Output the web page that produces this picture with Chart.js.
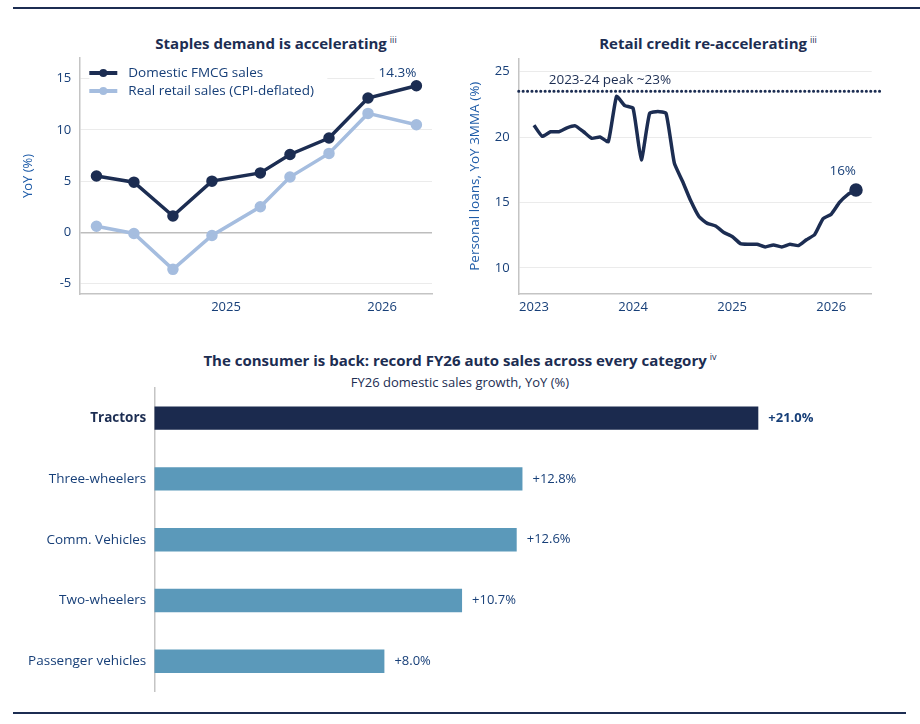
<!DOCTYPE html>
<html>
<head>
<meta charset="utf-8">
<script src="https://cdn.jsdelivr.net/npm/chart.js@4.4.1/dist/chart.umd.min.js"></script>
<style>
  body { margin: 0; background: #fff; width: 920px; height: 724px; position: relative; overflow: hidden; font-family: "Open Sans", sans-serif; }
  .rule { position: absolute; height: 2px; background: #1c2d52; }
  .title { position: absolute; color: #1c2d52; font-weight: 700; font-size: 15px; line-height: 20px; text-align: center; white-space: nowrap; }
  .title sup { font-size: 9px; font-weight: 400; color: #1c2d52; vertical-align: top; position: relative; top: -3px; margin-left: 3px; }
  .sub { position: absolute; color: #1c2d52; font-size: 13px; line-height: 18px; text-align: center; white-space: nowrap; }
  canvas { position: absolute; }
</style>
</head>
<body>
<div class="rule" style="left:13px; top:7px; width:907px;"></div>
<div class="title" style="left:76px; top:33px; width:400px;">Staples demand is accelerating<sup>iii</sup></div>
<div class="title" style="left:508px; top:33px; width:400px;">Retail credit re-accelerating<sup>iii</sup></div>
<div class="title" style="left:60px; top:350px; width:800px;">The consumer is back: record FY26 auto sales across every category<sup>iv</sup></div>
<div class="sub" style="left:60px; top:373px; width:800px;">FY26 domestic sales growth, YoY (%)</div>
<canvas id="fmcgChart" width="450" height="280" style="left:0; top:50px;"></canvas>
<canvas id="creditChart" width="460" height="280" style="left:460px; top:50px;"></canvas>
<canvas id="autoChart" width="920" height="320" style="left:0; top:380px;"></canvas>
<div class="rule" style="left:13px; top:712px; width:893px;"></div>

<script>
// ---- Données ----
// Graphique 1 : ventes FMCG vs ventes au détail (dates en années décimales)
const fmcgDates = [2024.17, 2024.41, 2024.66, 2024.91, 2025.22, 2025.41, 2025.66, 2025.91, 2026.22];
const fmcgSales = [5.5, 4.9, 1.6, 5.0, 5.8, 7.6, 9.2, 13.1, 14.3];
const realRetail = [0.6, -0.1, -3.6, -0.3, 2.5, 5.4, 7.7, 11.6, 10.5];
const fmcgYears = [2025, 2026];
const fmcgYTicks = [-5, 0, 5, 10, 15];

// Graphique 2 : prêts personnels, mensuel à partir de janv. 2023
const creditYears = ['2023', '2024', '2025', '2026'];
const creditLoans = [
  20.9, 20.05, 20.4, 20.4, 20.7, 20.85, 20.4, 19.9, 20.0, 19.65, 23.1, 22.4,
  22.2, 18.25, 21.8, 21.95, 21.8, 18.0, 16.6, 15.1, 13.9, 13.4, 13.2, 12.7,
  12.4, 11.85, 11.8, 11.8, 11.6, 11.75, 11.6, 11.8, 11.7, 12.15, 12.55, 13.75,
  14.1, 15.0, 15.6, 15.95
];
const creditPeak = 23.5;
const creditYTicks = [10, 15, 20, 25];

// Graphique 3 : ventes auto FY26
const autoCategories = ['Tractors', 'Three-wheelers', 'Comm. Vehicles', 'Two-wheelers', 'Passenger vehicles'];
const autoGrowth = [21.0, 12.8, 12.6, 10.7, 8.0];

// ---- Styles ----
const NAVY = '#1c2d52';
const TICK = '#173f78';
const AXIS_TITLE = '#1f5ca8';
const LIGHT = '#a5bddf';
const STEEL = '#5b99ba';
const FONT = '"Open Sans", sans-serif';

Chart.defaults.font.family = FONT;
Chart.defaults.color = TICK;

// largeur / hauteur fixes des axes, sans marge ajoutée pour les étiquettes
function fixWidth(w) {
  return s => { s.width = w; s.paddingTop = 0; s.paddingBottom = 0; };
}
function fixHeight(h) {
  return s => { s.height = h; s.paddingLeft = 0; s.paddingRight = 0; };
}

// Légende + étiquette de dernière valeur (graphique 1)
const fmcgLabels = {
  id: 'fmcgLabels',
  beforeDatasetsDraw(chart) {
    const { ctx, chartArea } = chart;
    ctx.save();
    const x0 = chartArea.left + 10;
    ctx.fillStyle = '#fff';
    ctx.fillRect(x0, chartArea.top + 3, 238, 40);
    ctx.font = '13.5px ' + FONT;
    ctx.textBaseline = 'middle';
    chart.data.datasets.forEach((ds, i) => {
      const y = chartArea.top + 15 + i * 18;
      ctx.strokeStyle = ds.borderColor;
      ctx.lineWidth = 4;
      ctx.beginPath(); ctx.moveTo(x0, y); ctx.lineTo(x0 + 28, y); ctx.stroke();
      ctx.fillStyle = ds.borderColor;
      ctx.beginPath(); ctx.arc(x0 + 14, y, 4, 0, Math.PI * 2); ctx.fill();
      ctx.fillStyle = TICK;
      ctx.textAlign = 'left';
      ctx.fillText(ds.label, x0 + 39, y);
    });
    const meta = chart.getDatasetMeta(0);
    const pt = meta.data[meta.data.length - 1];
    const txt = fmcgSales[fmcgSales.length - 1].toFixed(1) + '%';
    const w = ctx.measureText(txt).width;
    ctx.fillStyle = '#fff';
    ctx.fillRect(pt.x - w - 4, pt.y - 22, w + 20, 17);
    ctx.fillStyle = TICK;
    ctx.textAlign = 'right';
    ctx.fillText(txt, pt.x, pt.y - 13);
    ctx.restore();
  }
};

new Chart(document.getElementById('fmcgChart'), {
  type: 'line',
  data: {
    datasets: [
      {
        label: 'Domestic FMCG sales',
        data: fmcgDates.map((d, i) => ({ x: d, y: fmcgSales[i] })),
        borderColor: NAVY,
        backgroundColor: NAVY,
        borderWidth: 3.5,
        pointRadius: 4,
        pointHoverRadius: 4,
        tension: 0
      },
      {
        label: 'Real retail sales (CPI-deflated)',
        data: fmcgDates.map((d, i) => ({ x: d, y: realRetail[i] })),
        borderColor: LIGHT,
        backgroundColor: LIGHT,
        borderWidth: 3.5,
        pointRadius: 4,
        pointHoverRadius: 4,
        tension: 0
      }
    ]
  },
  options: {
    responsive: false,
    animation: false,
    layout: { padding: { left: 0, right: 18, top: 8, bottom: 0 } },
    plugins: { legend: { display: false }, tooltip: { enabled: false } },
    scales: {
      x: {
        type: 'linear',
        min: 2024.06,
        max: 2026.32,
        afterBuildTicks: s => { s.ticks = fmcgYears.map(v => ({ value: v })); },
        afterFit: fixHeight(36),
        grid: { display: false, drawTicks: false },
        border: { display: true, color: '#c4c4c4', width: 1.5 },
        ticks: { padding: 5, color: TICK, font: { size: 13 }, callback: v => String(v) }
      },
      y: {
        min: -6,
        max: 17,
        afterBuildTicks: s => { s.ticks = fmcgYTicks.map(v => ({ value: v })); },
        afterFit: fixWidth(79.3),
        grid: {
          drawTicks: false,
          color: c => c.tick && c.tick.value === 0 ? '#bdbdbd' : '#ebebeb',
          lineWidth: c => c.tick && c.tick.value === 0 ? 1.5 : 1
        },
        border: { display: true, color: '#c4c4c4', width: 1.5 },
        ticks: { padding: 8, color: TICK, font: { size: 13 } },
        title: { display: true, text: 'YoY (%)', color: AXIS_TITLE, font: { size: 13 }, padding: { top: 20, bottom: 0 } }
      }
    }
  },
  plugins: [fmcgLabels]
});

// Étiquettes du graphique 2
const creditLabels = {
  id: 'creditLabels',
  afterDatasetsDraw(chart) {
    const { ctx, chartArea, scales } = chart;
    ctx.save();
    ctx.font = '13.5px ' + FONT;
    ctx.fillStyle = NAVY;
    ctx.textBaseline = 'middle';
    ctx.textAlign = 'left';
    ctx.fillText('2023-24 peak ~23%', chartArea.left + 30, scales.y.getPixelForValue(creditPeak) - 11);
    const meta = chart.getDatasetMeta(0);
    const pt = meta.data[meta.data.length - 1];
    ctx.textAlign = 'right';
    ctx.fillStyle = TICK;
    ctx.fillText(Math.round(creditLoans[creditLoans.length - 1]) + '%', pt.x, pt.y - 19);
    ctx.restore();
  }
};

const creditXMin = -1.85, creditXMax = 40.9;
new Chart(document.getElementById('creditChart'), {
  type: 'line',
  data: {
    datasets: [
      {
        label: 'Personal loans',
        data: creditLoans.map((v, i) => ({ x: i, y: v })),
        borderColor: NAVY,
        backgroundColor: NAVY,
        borderWidth: 3.5,
        pointRadius: c => c.dataIndex === creditLoans.length - 1 ? 5 : 0,
        tension: 0.15
      },
      {
        label: 'Peak',
        data: [{ x: creditXMin, y: creditPeak }, { x: creditXMax + 1, y: creditPeak }],
        borderColor: NAVY,
        borderWidth: 3,
        borderDash: [0.1, 4.3],
        borderCapStyle: 'round',
        pointRadius: 0,
        clip: false
      }
    ]
  },
  options: {
    responsive: false,
    animation: false,
    layout: { padding: { left: 0, right: 48.3, top: 8.3, bottom: 0 } },
    plugins: { legend: { display: false }, tooltip: { enabled: false } },
    scales: {
      x: {
        type: 'linear',
        min: creditXMin,
        max: creditXMax,
        afterBuildTicks: s => { s.ticks = creditYears.map((y, i) => ({ value: i * 12 })); },
        afterFit: fixHeight(36),
        grid: { display: false, drawTicks: false },
        border: { display: true, color: '#c4c4c4', width: 1.5 },
        ticks: { padding: 5, color: TICK, font: { size: 13 }, callback: (v, i) => creditYears[i] }
      },
      y: {
        min: 8,
        max: 26,
        afterBuildTicks: s => { s.ticks = creditYTicks.map(v => ({ value: v })); },
        afterFit: fixWidth(58.7),
        grid: { drawTicks: false, color: '#ebebeb' },
        border: { display: true, color: '#c4c4c4', width: 1.5 },
        ticks: { padding: 9, color: TICK, font: { size: 13 } },
        title: { display: true, text: 'Personal loans, YoY 3MMA (%)', color: AXIS_TITLE, font: { size: 13.5 }, padding: { top: 7, bottom: 0 } }
      }
    }
  },
  plugins: [creditLabels]
});

// Étiquettes de valeur des barres (graphique 3)
const autoLabels = {
  id: 'autoLabels',
  afterDatasetsDraw(chart) {
    const { ctx } = chart;
    ctx.save();
    ctx.fillStyle = TICK;
    ctx.textBaseline = 'middle';
    ctx.textAlign = 'left';
    chart.getDatasetMeta(0).data.forEach((bar, i) => {
      ctx.font = (i === 0 ? 'bold ' : '') + '13px ' + FONT;
      ctx.fillText('+' + autoGrowth[i].toFixed(1) + '%', bar.x + 10, bar.y);
    });
    ctx.restore();
  }
};

new Chart(document.getElementById('autoChart'), {
  type: 'bar',
  data: {
    labels: autoCategories,
    datasets: [{
      label: 'FY26 growth',
      data: autoGrowth,
      backgroundColor: autoGrowth.map((v, i) => i === 0 ? '#1b2a4e' : STEEL),
      barPercentage: 0.385,
      categoryPercentage: 1
    }]
  },
  options: {
    indexAxis: 'y',
    responsive: false,
    animation: false,
    layout: { padding: { left: 0, right: 15, top: 7.7, bottom: 8.3 } },
    plugins: { legend: { display: false }, tooltip: { enabled: false } },
    scales: {
      x: { display: false, min: 0, max: 26.1 },
      y: {
        afterFit: fixWidth(154.3),
        grid: { display: false, drawTicks: false },
        border: { display: true, color: '#c4c4c4', width: 1.5 },
        ticks: {
          padding: 8,
          color: c => c.index === 0 ? NAVY : TICK,
          font: c => ({ family: FONT, size: 13.5, weight: c.index === 0 ? 'bold' : 'normal' })
        }
      }
    }
  },
  plugins: [autoLabels]
});
</script>
</body>
</html>
